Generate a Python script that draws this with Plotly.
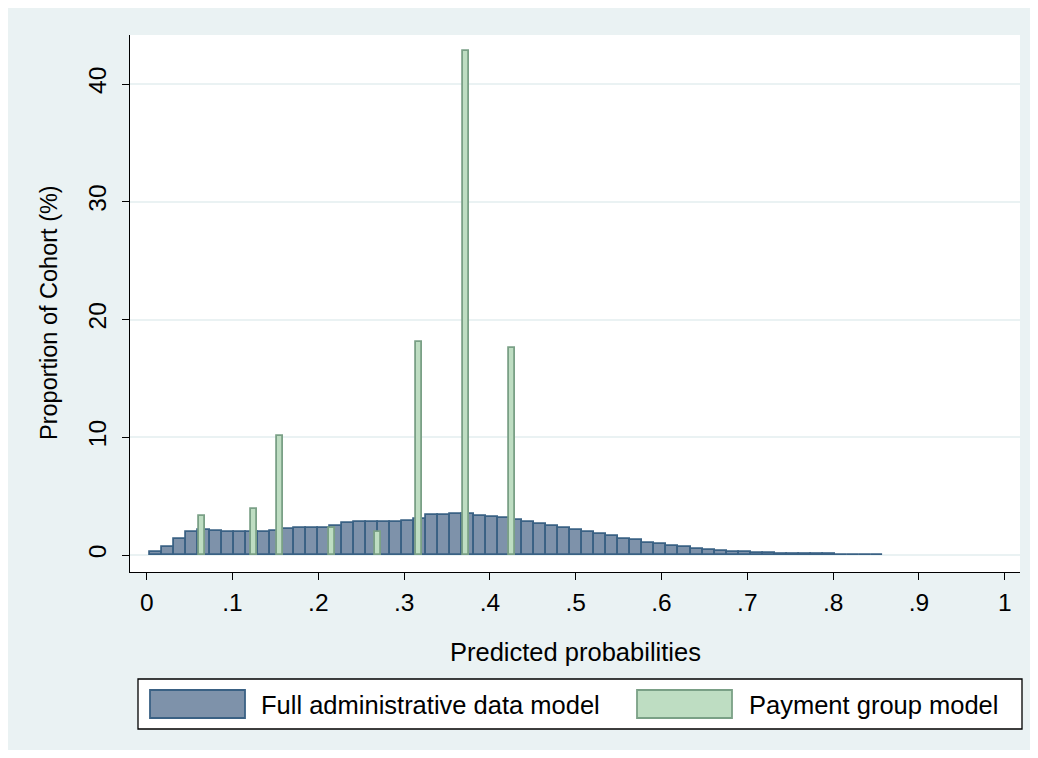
import plotly.graph_objects as go

# ---------------- data ----------------
# Full administrative data model: histogram of predicted probabilities
hist_start = 0.0038
hist_width = 0.014
full_admin_pct = [
    0.22, 0.66, 1.33, 1.95, 2.14, 2.05, 1.98, 1.92, 1.97, 1.98,
    2.06, 2.20, 2.26, 2.26, 2.32, 2.49, 2.69, 2.77, 2.83, 2.77,
    2.77, 2.86, 3.06, 3.40, 3.40, 3.48, 3.45, 3.28, 3.26, 3.11,
    2.97, 2.83, 2.63, 2.49, 2.32, 2.12, 1.98, 1.78, 1.61, 1.39,
    1.25, 1.05, 0.91, 0.75, 0.65, 0.51, 0.42, 0.34, 0.29, 0.23,
    0.17, 0.13, 0.11, 0.09, 0.07, 0.06, 0.05, 0.04, 0.04, 0.03,
    0.02,
]

# Payment group model: discrete predicted probabilities
payment_probs = [0.0647, 0.1253, 0.1554, 0.2156, 0.2698, 0.3172, 0.3719, 0.4254]
payment_pct = [3.3, 3.88, 10.1, 2.26, 1.98, 18.1, 42.8, 17.6]
payment_width = 0.0068

x_tickvals = [0, 0.1, 0.2, 0.3, 0.4, 0.5, 0.6, 0.7, 0.8, 0.9, 1.0]
x_ticktext = ["0", ".1", ".2", ".3", ".4", ".5", ".6", ".7", ".8", ".9", "1"]
y_tickvals = [0, 10, 20, 30, 40]
y_ticktext = ["0", "10", "20", "30", "40"]

legend_labels = ["Full administrative data model", "Payment group model"]

# ---------------- style ----------------
OFF = 8                                   # page body margin
W, H = 1038 - 2 * OFF, 758 - 2 * OFF      # figure size
# plot area in page pixels
L, R, T, B = 130, 1020, 35, 572
FONT = "Liberation Sans, Arial, Helvetica, sans-serif"
BG = "#EAF2F3"
BLUE_FILL = "#7E92AA"
BLUE_LINE = "#3A6184"
GREEN_FILL = "#BEDDC2"
GREEN_LINE = "#7AA086"

def px(xp):
    return (xp - L) / (R - L)

def py(yp):
    return (B - yp) / (B - T)

hist_centers = [hist_start + hist_width * (k + 0.5) for k in range(len(full_admin_pct))]

fig = go.Figure()
fig.add_trace(go.Bar(
    x=hist_centers, y=full_admin_pct, width=hist_width,
    marker=dict(color=BLUE_FILL, line=dict(color=BLUE_LINE, width=1.8)),
    name=legend_labels[0], showlegend=False,
))
fig.add_trace(go.Bar(
    x=payment_probs, y=payment_pct, width=payment_width,
    marker=dict(color=GREEN_FILL, line=dict(color=GREEN_LINE, width=1.8)),
    name=legend_labels[1], showlegend=False,
))

# axis ranges chosen so that 0 and 1 land where the reference has them
x0_px, x1_px = 146.7, 1004.7
ux = (x1_px - x0_px)
xr = [-(x0_px - L) / ux, 1 + (R - x1_px) / ux]
y0_px, y40_px = 555.0, 84.0
uy = (y0_px - y40_px) / 40
yr = [-(B - y0_px) / uy, (y0_px - T) / uy]

fig.update_layout(
    width=W, height=H,
    margin=dict(l=L - OFF, r=(1038 - OFF) - R, t=T - OFF, b=(758 - OFF) - B, pad=0),
    paper_bgcolor=BG, plot_bgcolor="white",
    barmode="overlay", bargap=0,
    font=dict(family=FONT, size=24, color="black"),
    showlegend=False,
    xaxis=dict(
        range=xr, tickvals=x_tickvals, ticktext=x_ticktext,
        showgrid=False, zeroline=False, showline=True, linecolor="black", linewidth=1.3,
        ticks="outside", ticklen=7, tickwidth=1.3, tickcolor="black",
        tickfont=dict(size=24.5), ticklabelstandoff=1, fixedrange=True,
    ),
    yaxis=dict(
        range=yr, tickvals=y_tickvals, ticktext=y_ticktext, tickangle=-90,
        showgrid=True, gridcolor=BG, gridwidth=1.5,
        zeroline=False, showline=True, linecolor="black", linewidth=1.3,
        ticks="outside", ticklen=7, tickwidth=1.3, tickcolor="black",
        tickfont=dict(size=24.5), ticklabelstandoff=6, fixedrange=True,
    ),
)

shapes = []
# legend box
shapes.append(dict(type="rect", xref="paper", yref="paper",
                   x0=px(138), x1=px(1022), y0=py(729), y1=py(679),
                   line=dict(color="black", width=1.3), fillcolor="white"))
# legend swatches
shapes.append(dict(type="rect", xref="paper", yref="paper",
                   x0=px(150), x1=px(245), y0=py(718), y1=py(690),
                   line=dict(color=BLUE_LINE, width=1.8), fillcolor=BLUE_FILL))
shapes.append(dict(type="rect", xref="paper", yref="paper",
                   x0=px(637), x1=px(732), y0=py(718), y1=py(690),
                   line=dict(color=GREEN_LINE, width=1.8), fillcolor=GREEN_FILL))

annotations = [
    dict(text="Proportion of Cohort (%)", xref="paper", yref="paper",
         x=px(49), y=py(313), textangle=-90, showarrow=False,
         xanchor="center", yanchor="middle", font=dict(size=23.5)),
    dict(text="Predicted probabilities", xref="paper", yref="paper",
         x=px(575), y=py(652), showarrow=False,
         xanchor="center", yanchor="middle", font=dict(size=25.5)),
    dict(text=legend_labels[0], xref="paper", yref="paper",
         x=px(259), y=py(705), showarrow=False,
         xanchor="left", yanchor="middle", font=dict(size=25.5)),
    dict(text=legend_labels[1], xref="paper", yref="paper",
         x=px(747), y=py(705), showarrow=False,
         xanchor="left", yanchor="middle", font=dict(size=25.5)),
]
fig.update_layout(shapes=shapes, annotations=annotations)

fig.write_html("out.html")
